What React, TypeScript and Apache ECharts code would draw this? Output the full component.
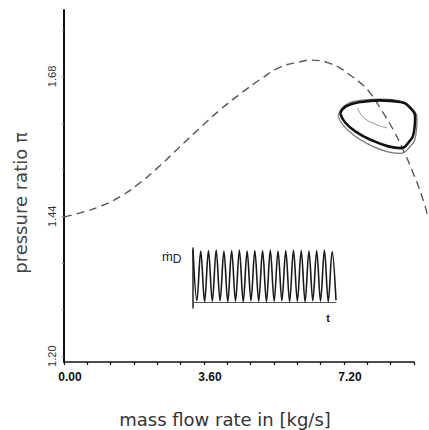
import React, { useEffect, useRef } from "react";
import * as echarts from "echarts";

// compressor characteristic (dashed)
const charM = [0, 0.42, 0.93, 1.45, 1.96, 2.47, 2.99, 3.5, 4.02, 4.53, 5.05, 5.56, 6.07, 6.33, 6.59, 6.85, 7.11, 7.36, 7.62, 7.88, 8.13, 8.47, 8.72, 8.95, 9.21, 9.36];
const charPi = [1.439, 1.446, 1.457, 1.474, 1.498, 1.527, 1.56, 1.592, 1.623, 1.65, 1.675, 1.696, 1.705, 1.708, 1.707, 1.702, 1.694, 1.682, 1.669, 1.651, 1.626, 1.588, 1.554, 1.519, 1.473, 1.439];

// limit cycle (thick) and neighbouring orbit (thin)
const loopM = [7.1, 7.26, 7.62, 8.13, 8.65, 8.9, 9.03, 9.0, 8.85, 8.65, 8.34, 7.93, 7.51, 7.23, 7.1];
const loopPi = [1.617, 1.629, 1.636, 1.639, 1.636, 1.626, 1.609, 1.585, 1.566, 1.557, 1.56, 1.57, 1.585, 1.601, 1.617];
const loop2M = [7.05, 7.22, 7.62, 8.13, 8.68, 8.95, 9.08, 9.05, 8.88, 8.62, 8.3, 7.88, 7.45, 7.17, 7.05];
const loop2Pi = [1.612, 1.63, 1.639, 1.641, 1.637, 1.625, 1.606, 1.58, 1.558, 1.548, 1.551, 1.562, 1.579, 1.597, 1.612];
const arcM = [7.55, 7.7, 8.05, 8.31];
const arcPi = [1.626, 1.61, 1.597, 1.592];

// inset: mass flow oscillation, extremes
const insetPeaks = [1.0, 0.98, 0.99, 1.0, 0.98, 0.99, 1.0, 0.98, 0.99, 0.99, 1.0, 0.98, 0.99, 1.0, 0.99, 0.98, 0.99, 1.0, 0.97];
const insetTroughs = [0.02, 0.0, 0.01, 0.02, 0.0, 0.01, 0.0, 0.02, 0.01, 0.0, 0.01, 0.02, 0.0, 0.01, 0.0, 0.02, 0.01, 0.0, 0.03];

const xTicks = [0, 0.6, 1.2, 1.8, 2.4, 3.0, 3.6, 4.2, 4.8, 5.4, 6.0, 6.6, 7.2, 7.8, 8.4, 9.0];
const xLabels = [0, 3.6, 7.2];
const yTicks = [1.2, 1.28, 1.36, 1.44, 1.52, 1.6, 1.68, 1.76];
const yLabels = [1.2, 1.44, 1.68];

const FONT = "Liberation Sans";
const NAME_FONT = "DejaVu Sans";

export default function App() {
  const ref = useRef<HTMLDivElement>(null);
  useEffect(() => {
    document.body.style.margin = "0";
    const chart = echarts.init(ref.current!, null, { renderer: "svg" });
    const pair = (a: number[], b: number[]) => a.map((v, i) => [v, b[i]]);
    const inset: number[][] = [];
    insetPeaks.forEach((p, i) => {
      inset.push([i, p]);
      inset.push([i + 0.5, insetTroughs[i]]);
    });
    // main axis: 0..9 over 350px (64..414); overflow grid keeps the same scale out to the page edge
    const pxPerUnit = 350 / 9;
    const wideMax = (429 - 64) / pxPerUnit;
    const hidden = { show: false, splitLine: { show: false } };
    chart.setOption({
      animation: false,
      backgroundColor: "#fff",
      grid: [
        { left: 64, top: 10, right: 15, bottom: 68 },
        { left: 193, top: 248, width: 143, height: 60 },
        { left: 64, top: 10, right: 0, bottom: 68 },
      ],
      xAxis: [
        {
          type: "value",
          gridIndex: 0,
          min: 0,
          max: 9,
          splitLine: { show: false },
          axisLine: { lineStyle: { color: "#111", width: 1.6 } },
          axisTick: { customValues: xTicks, length: 3, lineStyle: { color: "#111", width: 1.2 } },
          axisLabel: {
            customValues: xLabels,
            margin: 9,
            formatter: (v: number) => v.toFixed(2),
            fontFamily: FONT,
            fontSize: 12,
            fontWeight: "bold",
            color: "#111",
            padding: [0, 0, 0, 12],
          },
        },
        {
          type: "value",
          gridIndex: 1,
          min: 0,
          max: 18.5,
          splitLine: { show: false },
          axisLine: { lineStyle: { color: "#555", width: 1.2 } },
          axisTick: { show: false },
          axisLabel: { show: false },
        },
        { type: "value", gridIndex: 2, min: 0, max: wideMax, ...hidden },
      ],
      yAxis: [
        {
          type: "value",
          gridIndex: 0,
          min: 1.19,
          max: 1.794,
          splitLine: { show: false },
          axisLine: { show: true, lineStyle: { color: "#111", width: 2 } },
          axisTick: { show: true, customValues: yTicks, length: 2, lineStyle: { color: "#777", width: 1 } },
          axisLabel: {
            customValues: yLabels,
            rotate: 90,
            margin: 7,
            formatter: (v: number) => v.toFixed(2),
            fontFamily: FONT,
            fontSize: 11,
            color: "#333",
          },
        },
        {
          type: "value",
          gridIndex: 1,
          min: -0.12,
          max: 1.04,
          splitLine: { show: false },
          axisLine: { show: true, lineStyle: { color: "#222", width: 1.5 } },
          axisTick: { show: false },
          axisLabel: { show: false },
        },
        { type: "value", gridIndex: 2, min: 1.19, max: 1.794, ...hidden },
      ],
      series: [
        {
          type: "line",
          xAxisIndex: 2,
          yAxisIndex: 2,
          data: pair(charM, charPi),
          smooth: true,
          showSymbol: false,
          clip: false,
          lineStyle: { color: "#555", width: 1.4, type: [8, 5] },
        },
        {
          type: "line",
          xAxisIndex: 2,
          yAxisIndex: 2,
          data: pair(loop2M, loop2Pi),
          smooth: true,
          showSymbol: false,
          clip: false,
          lineStyle: { color: "#777", width: 1.2 },
        },
        {
          type: "line",
          xAxisIndex: 2,
          yAxisIndex: 2,
          data: pair(loopM, loopPi),
          smooth: true,
          showSymbol: false,
          clip: false,
          lineStyle: { color: "#111", width: 2.6 },
        },
        {
          type: "line",
          xAxisIndex: 2,
          yAxisIndex: 2,
          data: pair(arcM, arcPi),
          smooth: true,
          showSymbol: false,
          clip: false,
          lineStyle: { color: "#888", width: 0.9 },
        },
        {
          type: "line",
          xAxisIndex: 1,
          yAxisIndex: 1,
          data: inset,
          smooth: 0.35,
          showSymbol: false,
          clip: false,
          lineStyle: { color: "#1a1a1a", width: 1.6 },
        },
      ],
      graphic: [
        {
          type: "text",
          x: 20,
          y: 203,
          rotation: Math.PI / 2,
          style: {
            text: "pressure ratio π",
            fontFamily: NAME_FONT,
            fontSize: 18,
            fill: "#444",
            align: "center",
            verticalAlign: "middle",
          },
        },
        {
          type: "text",
          x: 225,
          y: 419,
          style: {
            text: "mass flow rate in [kg/s]",
            fontFamily: NAME_FONT,
            fontSize: 18,
            fill: "#333",
            align: "center",
            verticalAlign: "middle",
          },
        },
        {
          type: "text",
          x: 162,
          y: 256,
          style: {
            text: "{a|ṁ}{b|D}",
            fontFamily: FONT,
            verticalAlign: "middle",
            rich: {
              a: { fontFamily: FONT, fontSize: 13, fill: "#222" },
              b: { fontFamily: FONT, fontSize: 12, fill: "#222", padding: [6, 0, 0, 0] },
            },
          },
        },
        {
          type: "text",
          x: 328,
          y: 318,
          style: {
            text: "t",
            fontFamily: FONT,
            fontSize: 11,
            fontWeight: "bold",
            fill: "#222",
            align: "center",
            verticalAlign: "middle",
          },
        },
      ],
    });
    return () => chart.dispose();
  }, []);
  return <div ref={ref} style={{ width: 429, height: 430 }} />;
}
